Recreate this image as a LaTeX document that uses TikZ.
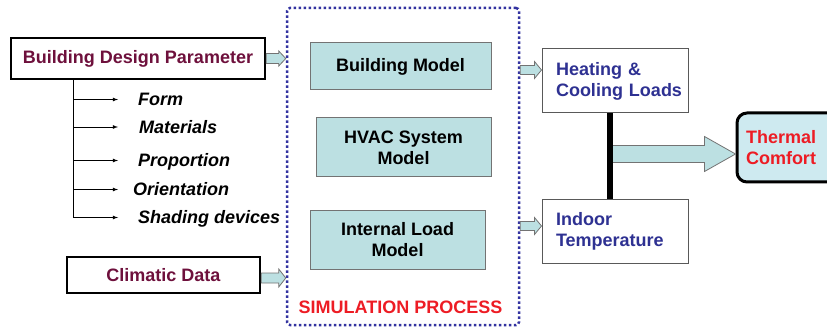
\documentclass[tikz,border=0pt]{standalone}
\usepackage{fontspec}
\setmainfont{Liberation Sans}
\usetikzlibrary{arrows}
\usetikzlibrary{calc}
\definecolor{boxcyan}{RGB}{188,224,226}
\definecolor{comfortcyan}{RGB}{206,234,240}
\definecolor{maroontext}{RGB}{110,16,60}
\definecolor{navytext}{RGB}{46,49,146}
\definecolor{redtext}{RGB}{237,28,36}
\definecolor{dotblue}{RGB}{50,50,160}
\tikzset{every node/.style={font=\fontsize{18}{21}\selectfont\bfseries, inner sep=0pt}}
\tikzset{inbox/.style={draw=black, line width=2.5pt, fill=white, text=maroontext}}
\tikzset{modelbox/.style={draw=black!55, line width=1pt, fill=boxcyan, align=center}}
\tikzset{outbox/.style={draw=black!65, line width=1pt, fill=white, text=navytext,
      text width=118pt, inner xsep=14pt, align=left, minimum width=146pt}}
\tikzset{itemtext/.style={font=\fontsize{18}{21}\selectfont\bfseries\itshape,
      anchor=west, text height=13pt, text depth=0pt}}
\tikzset{itemarrow/.style={-latex, line width=0.8pt}}
\tikzset{blockarr/.style={draw=black!55, line width=0.8pt, fill=boxcyan}}
\newcommand{\blockarrow}[5]{%
  \draw[blockarr] let \p1=(#1), \p2=(#2) in
    (\x1,\y1+#3pt) -- (\x2-#5pt,\y1+#3pt) -- (\x2-#5pt,\y1+#4pt) -- (\x2,\y1)
    -- (\x2-#5pt,\y1-#4pt) -- (\x2-#5pt,\y1-#3pt) -- (\x1,\y1-#3pt) -- cycle;}

\begin{document}
\begin{tikzpicture}[x=1pt,y=-1pt]
  \useasboundingbox (0,0) rectangle (827,331);
  \clip (0,0) rectangle (827,331);
  % inputs
  \node[inbox, minimum width=254pt, minimum height=41pt] (bdp) at (138,58.5) {Building Design Parameter};
  \node[inbox, minimum width=193pt, minimum height=36pt] (clim) at (163.5,275) {Climatic Data};
  \node[itemtext] (form) at (138,99.5) {Form};
  \node[itemtext] (materials) at (139,127) {Materials};
  \node[itemtext] (proportion) at (138,160.5) {Proportion};
  \node[itemtext] (orientation) at (133,189.5) {Orientation};
  \node[itemtext] (shading) at (138,217.5) {Shading devices};
  \coordinate (spine) at (73,79);
  \coordinate (tip) at (118,79);
  \draw[line width=0.8pt] (spine) -- (spine |- shading.west);
  \foreach \n in {form,materials,proportion,orientation,shading}
    \draw[itemarrow] (spine |- \n.west) -- (tip |- \n.west);
  % simulation
  \node[draw=dotblue, line width=2.5pt, dash pattern=on 2.5pt off 2.5pt, rounded corners=3pt,
        minimum width=232pt, minimum height=317pt] (sim) at (403,166.5) {};
  \node[modelbox, minimum width=181pt, minimum height=47pt] (bm) at (400.5,66.5) {Building Model};
  \node[modelbox, minimum width=175pt, minimum height=59pt] (hvac) at (403.5,147.5) {HVAC System\\Model};
  \node[modelbox, minimum width=175pt, minimum height=58pt] (ilm) at (397.5,240) {Internal Load\\Model};
  \node[text=redtext] (simlabel) at (400.5,307) {SIMULATION PROCESS};
  % outputs
  \node[outbox, minimum height=64pt] (heat) at (615,81) {Heating \&\\Cooling~Loads};
  \node[outbox, minimum height=63pt] (indoor) at (615,231.5) {Indoor\\Temperature};
  \node[draw=black, line width=3pt, fill=comfortcyan, rounded corners=10pt, text=redtext,
        minimum width=110pt, minimum height=69pt, text width=92pt, inner xsep=9pt, align=left]
        (comfort) at (792,147.5) {Thermal\\Comfort};
  % block arrows
  \blockarrow{bdp.east}{bdp.east -| sim.west}{5}{7.5}{7}
  \coordinate (climout) at ($(clim.east)+(0,3)$);
  \blockarrow{climout}{climout -| sim.west}{5}{9}{7}
  \coordinate (outA) at ($(bm.east -| sim.east)+(0,3.5)$);
  \blockarrow{outA}{outA -| heat.west}{4.5}{8.5}{7}
  \coordinate (outB) at ($(indoor.west -| sim.east)+(0,-5.5)$);
  \blockarrow{outB}{outB -| indoor.west}{4.5}{8.5}{7}
  \coordinate (join) at ($(heat.south)+(-5,0)$);
  \coordinate (bigA) at ($(join)+(0,40.5)$);
  \blockarrow{bigA}{bigA -| comfort.west}{8.5}{17.5}{31}
  \draw[line width=6pt] (join) -- (join |- indoor.north);
\end{tikzpicture}
\end{document}
